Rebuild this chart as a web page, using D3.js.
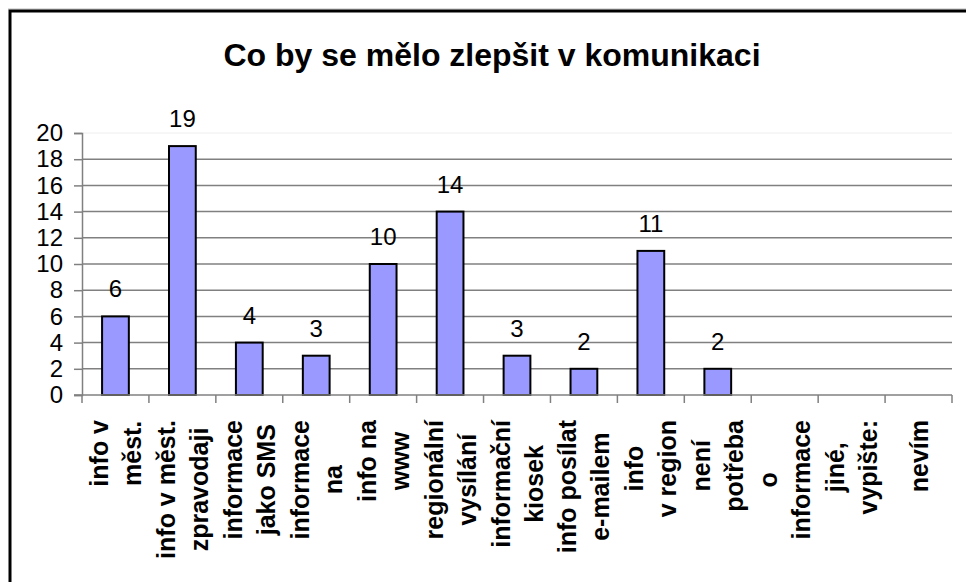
<!DOCTYPE html>
<html>
<head>
<meta charset="utf-8">
<script src="https://cdn.jsdelivr.net/npm/d3@7"></script>
<style>
  html, body { margin: 0; padding: 0; background: #fff; overflow: hidden; }
  svg { display: block; font-family: "Liberation Sans", Arial, sans-serif; }
</style>
</head>
<body>
<div id="chart"></div>
<script>
// chart data
const title = 'Co by se mělo zlepšit v komunikaci';
const categories = [
  ['info v', 'měst.'],
  ['info v měst.', 'zpravodaji'],
  ['informace', 'jako SMS'],
  ['informace', 'na'],
  ['info na', 'www'],
  ['regionální', 'vysílání'],
  ['informační', 'kiosek'],
  ['info posílat', 'e-mailem'],
  ['info', 'v region'],
  ['není', 'potřeba'],
  ['o', 'informace'],
  ['jiné,', 'vypište:'],
  ['nevím']
];
const values = [6, 19, 4, 3, 10, 14, 3, 2, 11, 2, 0, 0, 0];
const yTicks = [0, 2, 4, 6, 8, 10, 12, 14, 16, 18, 20];

const width = 966, height = 582;
const plot = { left: 82, right: 952, top: 133, bottom: 395 };

const svg = d3.select('#chart').append('svg')
  .attr('width', width)
  .attr('height', height);

// outer frame
svg.append('line')
  .attr('x1', 8).attr('x2', width).attr('y1', 9).attr('y2', 9)
  .attr('stroke', '#bbb').attr('stroke-width', 1);
svg.append('rect')
  .attr('x', 10).attr('y', 11)
  .attr('width', width + 20).attr('height', height + 20)
  .attr('fill', 'none').attr('stroke', '#000').attr('stroke-width', 3);

// title
svg.append('text')
  .attr('x', 492).attr('y', 66)
  .attr('text-anchor', 'middle')
  .attr('font-size', 32).attr('font-weight', 'bold')
  .text(title);

const idx = categories.map((d, i) => i);
const x = d3.scaleBand().domain(idx).range([plot.left, plot.right]).padding(0);
const y = d3.scaleLinear().domain([0, 20]).range([plot.bottom, plot.top]);

// gridlines
svg.append('g').selectAll('line')
  .data(yTicks.filter(t => t > 0))
  .join('line')
    .attr('x1', plot.left).attr('x2', plot.right)
    .attr('y1', d => y(d)).attr('y2', d => y(d))
    .attr('stroke', d => d === 20 ? '#eeeeee' : '#808080')
    .attr('stroke-width', d => d === 20 ? 1 : 1.5);

// bars
const barW = x.bandwidth() * 0.4;
svg.append('g').selectAll('rect')
  .data(values.map((v, i) => ({ v, i })).filter(d => d.v > 0))
  .join('rect')
    .attr('x', d => x(d.i) + (x.bandwidth() - barW) / 2)
    .attr('y', d => y(d.v))
    .attr('width', barW)
    .attr('height', d => y(0) - y(d.v))
    .attr('fill', '#9999ff')
    .attr('stroke', '#000')
    .attr('stroke-width', 2);

// value labels
svg.append('g').selectAll('text')
  .data(values.map((v, i) => ({ v, i })).filter(d => d.v > 0))
  .join('text')
    .attr('x', d => x(d.i) + x.bandwidth() / 2)
    .attr('y', d => y(d.v) - 19)
    .attr('text-anchor', 'middle')
    .attr('font-size', 24)
    .text(d => d.v);

// y axis
const yAxis = svg.append('g')
  .attr('transform', `translate(${plot.left},0)`)
  .call(d3.axisLeft(y).tickValues(yTicks).tickSize(8).tickPadding(11));
yAxis.select('.domain').attr('stroke', '#808080').attr('stroke-width', 1.5);
yAxis.selectAll('.tick line').attr('stroke', '#808080').attr('stroke-width', 1.5);
yAxis.selectAll('.tick text')
  .attr('font-size', 24).attr('fill', '#000')
  .attr('font-family', '"Liberation Sans", Arial, sans-serif');

// x axis line and category ticks
svg.append('line')
  .attr('x1', plot.left - 8).attr('x2', plot.right)
  .attr('y1', plot.bottom).attr('y2', plot.bottom)
  .attr('stroke', '#808080').attr('stroke-width', 1.5);
svg.append('g').selectAll('line')
  .data(idx.concat([categories.length]))
  .join('line')
    .attr('x1', d => d < categories.length ? x(d) : plot.right)
    .attr('x2', d => d < categories.length ? x(d) : plot.right)
    .attr('y1', plot.bottom).attr('y2', plot.bottom + 8)
    .attr('stroke', '#808080').attr('stroke-width', 1.5);

// rotated category labels (wrapped, lines centred on each other)
const fs = 25, pitch = 33, labelTop = 420;
const groups = svg.append('g').selectAll('g')
  .data(categories)
  .join('g');

groups.each(function(lines, i) {
  const g = d3.select(this);
  const n = lines.length;
  const texts = g.selectAll('text')
    .data(lines)
    .join('text')
      .attr('text-anchor', 'middle')
      .attr('font-size', fs)
      .attr('font-weight', 'bold')
      .attr('x', 0)
      .attr('y', (d, j) => (j - (n - 1) / 2) * pitch + fs * 0.36)
      .text(d => d);
  const maxLen = d3.max(texts.nodes(), t => t.getComputedTextLength());
  const cx = x(i) + x.bandwidth() / 2;
  g.attr('transform', `translate(${cx},${labelTop + maxLen / 2}) rotate(-90)`);
});
</script>
</body>
</html>
